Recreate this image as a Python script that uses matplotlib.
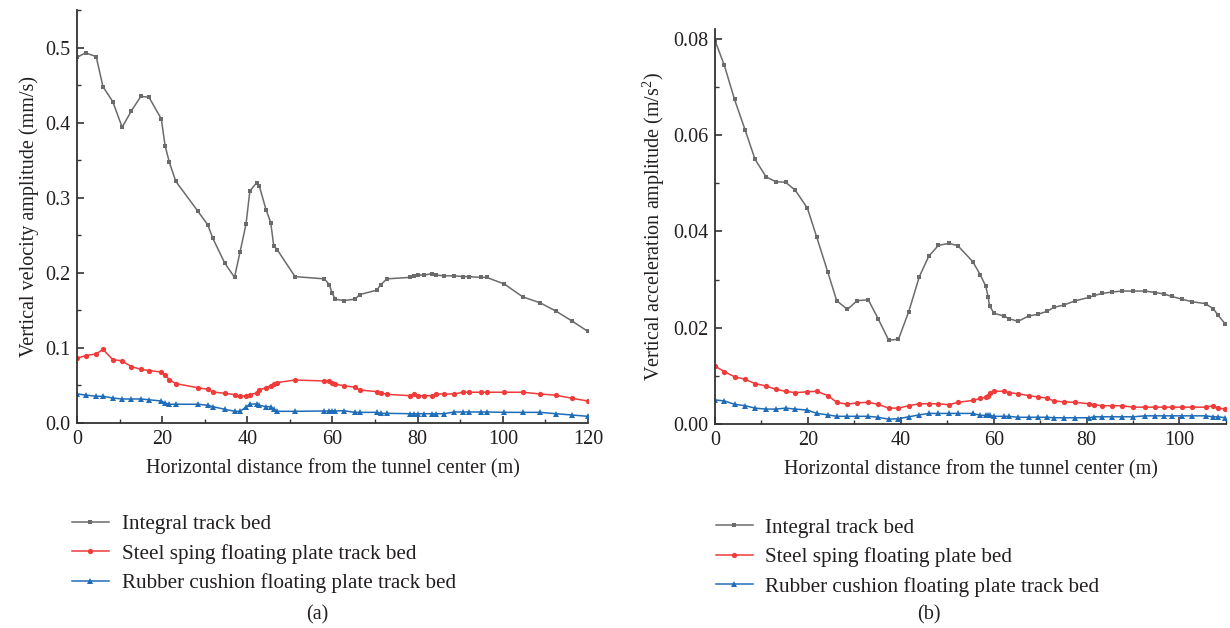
import matplotlib
matplotlib.use("Agg")
import matplotlib.pyplot as plt
from matplotlib.ticker import MultipleLocator

plt.rcParams['font.family'] = ['Liberation Serif', 'DejaVu Serif']
plt.rcParams['mathtext.fontset'] = 'custom'
plt.rcParams['mathtext.rm'] = 'Liberation Serif'

# (a) velocity amplitude
dist_a = [0, 2.0, 4.5, 6.1, 8.4, 10.6, 12.8, 15.0, 16.9, 19.8, 20.7, 21.7, 23.2, 28.4,
          30.7, 31.9, 34.7, 37.0, 38.3, 39.7, 40.6, 42.2, 42.8, 44.4, 45.5, 46.2, 47.0,
          51.2, 58.1, 59.3, 59.9, 60.7, 62.6, 65.3, 66.4, 70.4, 71.3, 72.8, 78.3, 79.2,
          80.1, 81.6, 83.3, 84.4, 86.2, 88.6, 90.7, 92.0, 94.8, 96.2, 100.4, 104.7, 108.8,
          112.5, 116.2, 120]
vel_integral = [0.487, 0.493, 0.488, 0.448, 0.428, 0.394, 0.416, 0.435, 0.434, 0.405, 0.369,
                0.347, 0.322, 0.282, 0.264, 0.246, 0.213, 0.194, 0.228, 0.265, 0.309, 0.320,
                0.316, 0.284, 0.267, 0.236, 0.231, 0.195, 0.192, 0.184, 0.173, 0.165, 0.163,
                0.165, 0.171, 0.177, 0.184, 0.192, 0.194, 0.196, 0.197, 0.197, 0.199, 0.197,
                0.196, 0.196, 0.195, 0.195, 0.194, 0.194, 0.185, 0.168, 0.160, 0.149, 0.136,
                0.122]
vel_steel = [0.0862, 0.0898, 0.092, 0.098, 0.0845, 0.0827, 0.075, 0.0716, 0.0698, 0.068,
             0.0636, 0.0578, 0.0525, 0.047, 0.045, 0.0413, 0.0396, 0.0378, 0.0356, 0.0364,
             0.0378, 0.040, 0.044, 0.047, 0.0498, 0.052, 0.0538, 0.0573, 0.056, 0.0556,
             0.0533, 0.0516, 0.0498, 0.0476, 0.044, 0.0418, 0.0404, 0.0382, 0.0364, 0.0387,
             0.0364, 0.0364, 0.0364, 0.0387, 0.0387, 0.0387, 0.041, 0.041, 0.041, 0.041,
             0.041, 0.041, 0.0387, 0.037, 0.033, 0.0293]
vel_rubber = [0.0387, 0.0373, 0.0356, 0.0356, 0.0333, 0.032, 0.032, 0.032, 0.031, 0.0293,
              0.0267, 0.025, 0.025, 0.025, 0.0236, 0.0218, 0.0183, 0.0156, 0.0156, 0.0213,
              0.0253, 0.0253, 0.0236, 0.0218, 0.0218, 0.0183, 0.0156, 0.0156, 0.016, 0.016,
              0.0164, 0.016, 0.0164, 0.0142, 0.0142, 0.0142, 0.0129, 0.0129, 0.0124, 0.0124,
              0.0124, 0.0124, 0.0124, 0.0124, 0.0124, 0.0147, 0.0147, 0.0147, 0.0147, 0.0147,
              0.0142, 0.0142, 0.0142, 0.0124, 0.0107, 0.0089]

# (b) acceleration amplitude
dist_b = [0, 2.0, 4.2, 6.5, 8.6, 11.0, 13.1, 15.2, 17.3, 19.9, 21.9, 24.3, 26.2, 28.5,
          30.6, 33.0, 35.1, 37.4, 39.5, 41.7, 44.0, 46.0, 48.1, 50.4, 52.3, 55.5, 57.1,
          58.3, 58.8, 59.1, 60.1, 62.2, 63.3, 65.2, 67.5, 69.6, 71.5, 72.9, 75.1, 77.6,
          80.6, 81.7, 83.3, 85.4, 87.6, 90.0, 92.6, 94.8, 96.6, 98.3, 100.6, 102.6, 105.6,
          107.3, 108.3, 109.9]
acc_integral = [0.0796, 0.0745, 0.0674, 0.061, 0.055, 0.0513, 0.0503, 0.0502, 0.0485, 0.0448,
                0.0388, 0.0315, 0.0256, 0.0238, 0.0256, 0.0258, 0.0219, 0.0174, 0.0176,
                0.0233, 0.0306, 0.0348, 0.0371, 0.0375, 0.037, 0.0337, 0.031, 0.0286, 0.0264,
                0.0245, 0.023, 0.0224, 0.0219, 0.0213, 0.0224, 0.0228, 0.0234, 0.0242, 0.0247,
                0.0256, 0.0263, 0.0267, 0.0271, 0.0274, 0.0276, 0.0276, 0.0276, 0.0273, 0.027,
                0.0265, 0.0259, 0.0254, 0.025, 0.0239, 0.0226, 0.0207]
acc_steel = [0.012, 0.0109, 0.0098, 0.0093, 0.0084, 0.0079, 0.0072, 0.0068, 0.0065, 0.0067,
             0.0068, 0.0059, 0.0045, 0.0041, 0.0044, 0.0045, 0.0041, 0.0033, 0.0033, 0.0038,
             0.0042, 0.0042, 0.0042, 0.004, 0.0045, 0.0049, 0.0053, 0.0056, 0.0059, 0.0064,
             0.0068, 0.0068, 0.0065, 0.0063, 0.0059, 0.0056, 0.0054, 0.0048, 0.0046, 0.0045,
             0.0042, 0.004, 0.0038, 0.0038, 0.0038, 0.0035, 0.0035, 0.0035, 0.0035, 0.0035,
             0.0035, 0.0035, 0.0035, 0.0038, 0.0033, 0.0031]
acc_rubber = [0.005, 0.0048, 0.0041, 0.0038, 0.0033, 0.0031, 0.0031, 0.0033, 0.0031, 0.0029,
              0.0022, 0.0019, 0.0016, 0.0016, 0.0016, 0.0016, 0.0014, 0.001, 0.0011, 0.0015,
              0.0019, 0.0022, 0.0022, 0.0022, 0.0022, 0.0022, 0.0018, 0.0018, 0.0019, 0.0018,
              0.0016, 0.0016, 0.0016, 0.0014, 0.0014, 0.0014, 0.0014, 0.0013, 0.0013, 0.0013,
              0.0013, 0.0015, 0.0015, 0.0015, 0.0015, 0.0015, 0.0017, 0.0017, 0.0017, 0.0017,
              0.0017, 0.0017, 0.0017, 0.0015, 0.0015, 0.0013]

labels_a = ['Integral track bed', 'Steel sping floating plate track bed',
            'Rubber cushion floating plate track bed']
labels_b = ['Integral track bed', 'Steel sping floating plate bed',
            'Rubber cushion floating plate track bed']

GRAY = '#6b6b6b'
RED = '#ef3b39'
BLUE = '#1f6cb8'
TEXT = '#231f20'
FS = 14.5

fig = plt.figure(figsize=(12.3, 6.28), dpi=100)
ax1 = fig.add_axes([0.0626, 0.3264, 0.4154, 0.6576])
ax2 = fig.add_axes([0.5813, 0.3248, 0.4154, 0.629])


def draw(ax, x, series, labels):
    styles = [(GRAY, 's', 3.2), (RED, 'o', 3.8), (BLUE, '^', 4.2)]
    lines = []
    for y, lab, (c, m, ms) in zip(series, labels, styles):
        ln, = ax.plot(x, y, color=c, marker=m, markersize=ms, linewidth=1.1,
                      markeredgewidth=0, label=lab)
        lines.append(ln)
    for s in ['top', 'right']:
        ax.spines[s].set_visible(False)
    for s in ['left', 'bottom']:
        ax.spines[s].set_linewidth(1.3)
        ax.spines[s].set_color('#333333')
    ax.tick_params(which='major', direction='in', length=5, width=1.2,
                   labelsize=FS, colors='#333333', labelcolor=TEXT, pad=5)
    ax.tick_params(which='minor', direction='in', length=3, width=1.0, colors='#333333')
    return lines


lines_a = draw(ax1, dist_a, [vel_integral, vel_steel, vel_rubber], labels_a)
ax1.set_xlim(0, 120)
ax1.set_ylim(0, 0.55)
ax1.xaxis.set_major_locator(MultipleLocator(20))
ax1.xaxis.set_minor_locator(MultipleLocator(10))
ax1.yaxis.set_major_locator(MultipleLocator(0.1))
ax1.yaxis.set_minor_locator(MultipleLocator(0.05))
ax1.yaxis.set_major_formatter(plt.FormatStrFormatter('%.1f'))
ax1.set_xlabel('Horizontal distance from the tunnel center (m)', fontsize=FS, color=TEXT, labelpad=7)
ax1.set_ylabel('Vertical velocity amplitude (mm/s)', fontsize=FS, color=TEXT, labelpad=4)

lines_b = draw(ax2, dist_b, [acc_integral, acc_steel, acc_rubber], labels_b)
ax2.set_xlim(0, 110)
ax2.set_ylim(0, 0.082)
ax2.xaxis.set_major_locator(MultipleLocator(20))
ax2.xaxis.set_minor_locator(MultipleLocator(10))
ax2.yaxis.set_major_locator(MultipleLocator(0.02))
ax2.yaxis.set_minor_locator(MultipleLocator(0.01))
ax2.yaxis.set_major_formatter(plt.FormatStrFormatter('%.2f'))
ax2.set_xlabel('Horizontal distance from the tunnel center (m)', fontsize=FS, color=TEXT, labelpad=7)
ax2.set_ylabel('Vertical acceleration amplitude (m/s$^2$)', fontsize=FS, color=TEXT, labelpad=4)

leg_kw = dict(loc='upper left', frameon=False, fontsize=15.2, handlelength=1.75,
              handletextpad=0.6, labelspacing=0.45, borderaxespad=0, borderpad=0)
leg1 = fig.legend(lines_a, labels_a, bbox_to_anchor=(0.0585, 0.181), **leg_kw)
leg2 = fig.legend(lines_b, labels_b, bbox_to_anchor=(0.582, 0.175), **leg_kw)
for leg in (leg1, leg2):
    for t in leg.get_texts():
        t.set_color(TEXT)

fig.text(0.258, 0.013, '(a)', fontsize=FS, color=TEXT, ha='center')
fig.text(0.755, 0.013, '(b)', fontsize=FS, color=TEXT, ha='center')

fig.savefig('out.png', dpi=100)
